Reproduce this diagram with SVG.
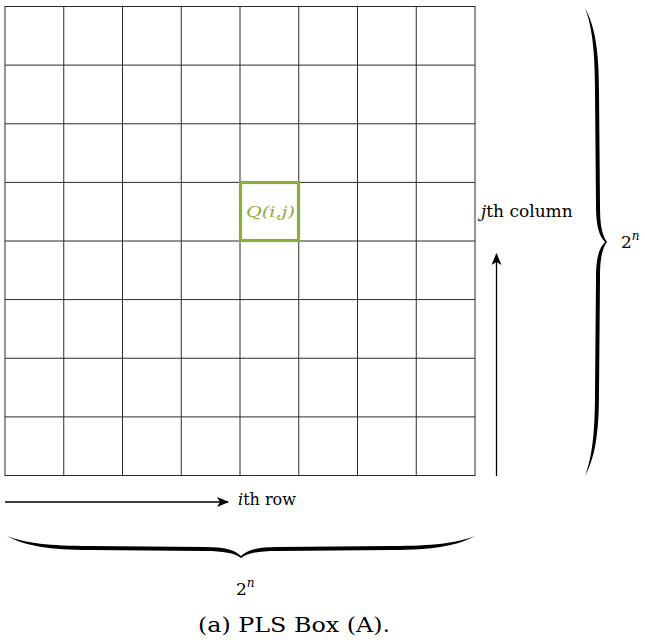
<svg xmlns="http://www.w3.org/2000/svg" width="645" height="640" viewBox="0 0 645 640">
  <style>
    .grid { stroke: #2b2b2b; stroke-width: 1; fill: none; }
    text { font-family: 'DejaVu Serif', serif; fill: #000; }
    .it { font-style: italic; }
    .arrow { stroke: #000; stroke-width: 1.3; fill: none; }
    .brace { fill: #000; }
  </style>
  <defs>
    <marker id="head" viewBox="0 0 12 10" refX="11" refY="5" markerWidth="12" markerHeight="10" markerUnits="userSpaceOnUse" orient="auto">
      <path d="M0,0 L12,5 L0,10 L3,5 Z" fill="#000"/>
    </marker>
    <path id="brace" d="M0,0 C18,7 43,10 83,10 L198,11 C218,11 228,14 234,20 C240,14 250,11 270,11 L385,10 C425,10 450,7 468,0 C450,10 425,14 385,14 L270,15 C251,15 241,17 234,22 C227,17 217,15 198,15 L83,14 C43,14 18,10 0,0 Z"/>
  </defs>

  <g id="grid">
    <rect class="grid" x="5" y="6.5" width="470" height="469"/>
    <path class="grid" d="M63.75,6.5V475.5 M122.5,6.5V475.5 M181.25,6.5V475.5 M240,6.5V475.5 M298.75,6.5V475.5 M357.5,6.5V475.5 M416.25,6.5V475.5
      M5,65.1H475 M5,123.75H475 M5,182.4H475 M5,241H475 M5,299.6H475 M5,358.25H475 M5,416.9H475"/>
  </g>

  <g id="cell-q">
    <rect x="240.5" y="182.5" width="58" height="58" fill="none" stroke="#8aae3c" stroke-width="3.2"/>
    <text x="246" y="217" font-size="15" font-style="italic" style="fill:#8aae3c" textLength="49" lengthAdjust="spacingAndGlyphs">Q(i,j)</text>
  </g>

  <g id="connectors">
    <line class="arrow" x1="5" y1="502" x2="228" y2="502" marker-end="url(#head)"/>
    <line class="arrow" x1="496.5" y1="476" x2="496.5" y2="254" marker-end="url(#head)"/>
  </g>

  <g id="label-row">
    <text x="238" y="505" font-size="16"><tspan class="it">i</tspan>th row</text>
  </g>
  <g id="label-column">
    <text x="481" y="217" font-size="17"><tspan class="it">j</tspan>th column</text>
  </g>

  <g id="brace-bottom">
    <use href="#brace" class="brace" transform="translate(7,536)"/>
    <text x="236" y="595" font-size="17">2<tspan class="it" font-size="12" dy="-8">n</tspan></text>
  </g>

  <g id="brace-right">
    <use href="#brace" class="brace" transform="translate(585,8) matrix(0 1 1 0 0 0)"/>
    <text x="621" y="248" font-size="17">2<tspan class="it" font-size="12" dy="-8">n</tspan></text>
  </g>

  <g id="caption">
    <text x="198" y="632" font-size="21" textLength="192" lengthAdjust="spacingAndGlyphs">(a) PLS Box (A).</text>
  </g>
</svg>
